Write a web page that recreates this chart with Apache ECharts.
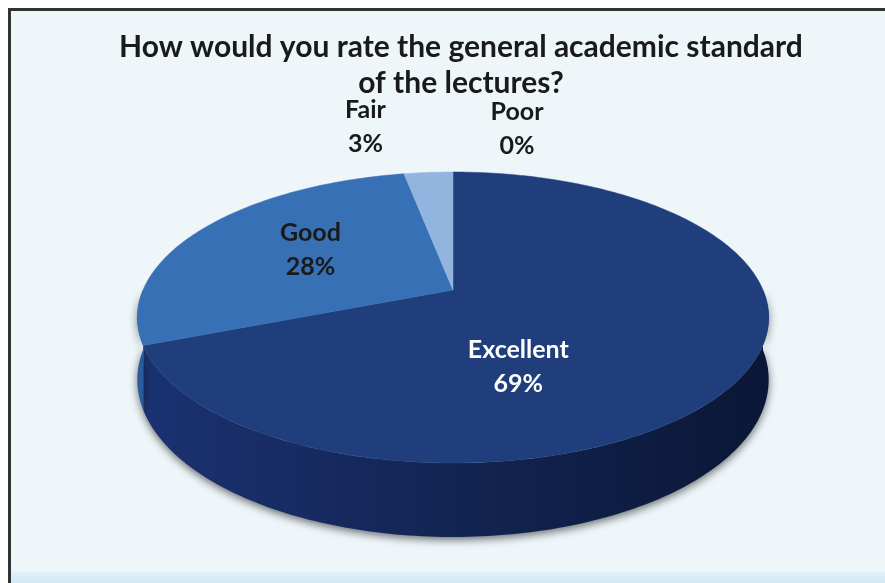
<!DOCTYPE html>
<html>
<head>
<meta charset="utf-8">
<script src="https://cdn.jsdelivr.net/npm/echarts@6/dist/echarts.min.js"></script>
<style>
html,body{margin:0;padding:0;background:#ffffff;}
#chart{width:885px;height:583px;}
</style>
</head>
<body>
<div id="chart"></div>
<script>
// ---- data ----
const categories = ['Excellent', 'Good', 'Fair', 'Poor'];
const values = [69, 28, 3, 0];
const titleText = 'How would you rate the general academic standard\nof the lectures?';

// ---- styles ----
const topColors = ['#1f3e7b', '#3870b6', '#92b5e0', '#b8cfee'];
const sideColors = [['#1b3271', '#0b1736'], ['#2a5b9c', '#1d447f'], ['#7095c4', '#5c80b0'], ['#8fa8cc', '#7a95bd']];
const labelColors = ['#ffffff', '#1a1a1a', '#1a1a1a', '#1a1a1a'];
const labelRadius = [0.6, 0.6, 1.0, 1.0];
const labelOffset = [[-99, 26], [12, -2], [-63, -46], [64, -43]];

// perspective pie geometry
const CX = 453, CY = 290, A = 310, B = 140.3, K = 0.189, THICK = 60;

function proj(t, r, down) {
  const u = r * Math.sin(t), w = -r * Math.cos(t);
  const s = 1 / (1 - K * w);
  return [CX + A * u * s, CY + B * w * s + (down ? THICK * s : 0)];
}
function arc(a, b, down) {
  const n = Math.max(2, Math.ceil(Math.abs(b - a) / (Math.PI / 180)));
  const pts = [];
  for (let i = 0; i <= n; i++) pts.push(proj(a + (b - a) * i / n, 1, down));
  return pts;
}

const total = values.reduce((s, v) => s + v, 0);

function renderItem(params, api) {
  const i = params.dataIndex;
  const v = api.value(0);
  let start = 0;
  for (let j = 0; j < i; j++) start += values[j];
  const a0 = start / total * Math.PI * 2;
  const a1 = (start + v) / total * Math.PI * 2;
  const children = [];
  // front side wall
  const s0 = Math.max(a0, Math.PI / 2), s1 = Math.min(a1, Math.PI * 3 / 2);
  if (s1 > s0) {
    const pts = arc(s0, s1, false).concat(arc(s1, s0, true));
    children.push({
      type: 'polygon', z2: 1,
      shape: { points: pts },
      style: {
        fill: {
          type: 'linear', global: true, x: CX - A, y: 0, x2: CX + A, y2: 0,
          colorStops: [{ offset: 0, color: sideColors[i][0] }, { offset: 1, color: sideColors[i][1] }]
        },
        shadowBlur: 8, shadowColor: 'rgba(0,0,0,0.55)', shadowOffsetY: 3
      }
    });
  }
  // top face
  if (a1 > a0) {
    children.push({
      type: 'polygon', z2: 10,
      shape: { points: [[CX, CY]].concat(arc(a0, a1, false)) },
      style: { fill: topColors[i], stroke: topColors[i], lineWidth: 0.5 }
    });
  }
  // label
  const mid = (a0 + a1) / 2;
  const p = proj(mid, labelRadius[i], false);
  children.push({
    type: 'text', z2: 20,
    x: p[0] + labelOffset[i][0], y: p[1] + labelOffset[i][1],
    style: {
      text: categories[i] + '\n' + Math.round(v / total * 100) + '%',
      fill: labelColors[i],
      fontFamily: 'Lato', fontSize: 25, fontWeight: 'bold',
      lineHeight: 34,
      align: 'center', verticalAlign: 'middle'
    }
  });
  return { type: 'group', children: children };
}

const chart = echarts.init(document.getElementById('chart'), null, { renderer: 'canvas' });
chart.setOption({
  backgroundColor: '#ffffff',
  animation: false,
  title: {
    text: titleText,
    left: 456, top: 24, textAlign: 'center',
    textStyle: { fontFamily: 'Lato', fontSize: 30, fontWeight: 'bold', color: '#1a1a1a', lineHeight: 36 }
  },
  graphic: [
    {
      type: 'rect', z: -10, silent: true,
      shape: { x: 9.5, y: 9.5, width: 900, height: 600 },
      style: { fill: '#eef6fa', stroke: '#333333', lineWidth: 3 }
    },
    {
      type: 'rect', z: -9, silent: true,
      shape: { x: 11, y: 572, width: 900, height: 20 },
      style: {
        fill: { type: 'linear', x: 0, y: 0, x2: 0, y2: 1,
          colorStops: [{ offset: 0, color: '#e3f1f8' }, { offset: 0.4, color: '#d3eaf6' }, { offset: 1, color: '#cfe7f4' }] }
      }
    }
  ],
  series: [{
    type: 'custom',
    coordinateSystem: 'none',
    renderItem: renderItem,
    data: values.map((v, i) => ({ name: categories[i], value: [v] }))
  }]
});
</script>
</body>
</html>
